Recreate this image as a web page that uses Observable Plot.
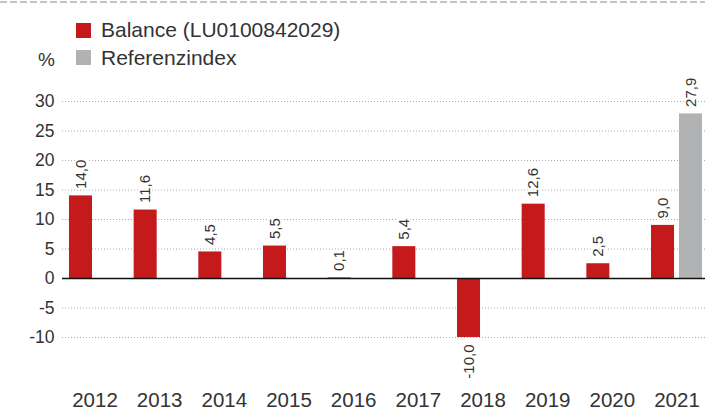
<!DOCTYPE html>
<html>
<head>
<meta charset="utf-8">
<script src="https://cdn.jsdelivr.net/npm/d3@7"></script>
<script src="https://cdn.jsdelivr.net/npm/@observablehq/plot@0.6"></script>
<style>
  body { margin: 0; background: #fff; font-family: "Liberation Sans", Arial, Helvetica, sans-serif; color: #333; }
  #wrap { width: 705px; height: 410px; position: relative; overflow: hidden; background: #fff; }
  #dash { position: absolute; left: 0; top: 1px; width: 705px; height: 2px;
          background: repeating-linear-gradient(to right, #c4c4c4 0 7.3px, transparent 7.3px 10px); }
  #head { position: relative; height: 68px; }
  .row { position: absolute; left: 76px; height: 22px; line-height: 22px; display: flex; align-items: center;
         font-size: 21px; white-space: nowrap; color: #333; }
  .sw { width: 15px; height: 15px; margin-right: 10px; flex: none; }
  #pct { position: absolute; left: 38px; top: 50px; font-size: 19px; line-height: 20px; color: #333; }
  #chart svg { display: block; }
</style>
</head>
<body>
<div id="wrap">
  <div id="dash"></div>
  <div id="head"></div>
  <div id="chart"></div>
</div>
<script>
// ---- data ----
const years = ["2012", "2013", "2014", "2015", "2016", "2017", "2018", "2019", "2020", "2021"];
const balance = [14.0, 11.6, 4.5, 5.5, 0.1, 5.4, -10.0, 12.6, 2.5, 9.0];
const refYears = ["2021"];
const refValues = [27.9];
const yTicks = [-10, -5, 0, 5, 10, 15, 20, 25, 30];
const seriesNames = ["Balance (LU0100842029)", "Referenzindex"];
const seriesColors = ["#c41a1c", "#b1b2b4"];
const unitLabel = "%";

// ---- legend ----
const head = document.getElementById("head");
const rowTops = [19, 46.5];
seriesNames.forEach((name, i) => {
  const row = document.createElement("div");
  row.className = "row";
  row.style.top = rowTops[i] + "px";
  const sw = document.createElement("span");
  sw.className = "sw";
  sw.style.background = seriesColors[i];
  const tx = document.createElement("span");
  tx.textContent = name;
  row.appendChild(sw);
  row.appendChild(tx);
  head.appendChild(row);
});
const pct = document.createElement("div");
pct.id = "pct";
pct.textContent = unitLabel;
head.appendChild(pct);

// ---- chart ----
const balanceRows = years.map((year, i) => ({year, value: balance[i]}));
const refRows = refYears.map((year, i) => ({year, value: refValues[i]}));
const fmt = v => v.toFixed(1).replace(".", ",");

function valueLabels(rows, dx) {
  const common = {x: "year", y: "value", text: d => fmt(d.value), rotate: -90, dx,
    fontSize: 15, fill: "#333", stroke: "white", strokeWidth: 4, paintOrder: "stroke"};
  return [
    Plot.text(rows.filter(d => d.value >= 0), {...common, textAnchor: "start", dy: -7}),
    Plot.text(rows.filter(d => d.value < 0), {...common, textAnchor: "end", dy: 7})
  ];
}

const chart = Plot.plot({
  width: 705,
  height: 342,
  marginLeft: 62,
  marginRight: 0,
  marginTop: 33,
  marginBottom: 73,
  style: {fontFamily: '"Liberation Sans", Arial, Helvetica, sans-serif', color: "#333", background: "white", overflow: "visible"},
  x: {type: "band", domain: years, paddingInner: 0.644, paddingOuter: 0.2625, insetLeft: 4, round: false, label: null},
  y: {domain: [-10, 30], label: null},
  marks: [
    Plot.ruleY(yTicks.filter(t => t !== 0), {stroke: "#aaa", strokeDasharray: "1,2"}),
    Plot.barY(balanceRows, {x: "year", y: "value", fill: seriesColors[0], dx: -14}),
    Plot.barY(refRows, {x: "year", y: "value", fill: seriesColors[1], dx: 14}),
    Plot.ruleY([0], {stroke: "#111", strokeWidth: 1.5}),
    ...valueLabels(balanceRows, -14),
    ...valueLabels(refRows, 14),
    Plot.axisY({ticks: yTicks, tickSize: 0, tickPadding: 8, tickFormat: d => String(d), fontSize: 17.5, label: null}),
    Plot.axisX({tickSize: 0, tickPadding: 55, fontSize: 20.5, label: null})
  ]
});
document.getElementById("chart").appendChild(chart);
</script>
</body>
</html>
